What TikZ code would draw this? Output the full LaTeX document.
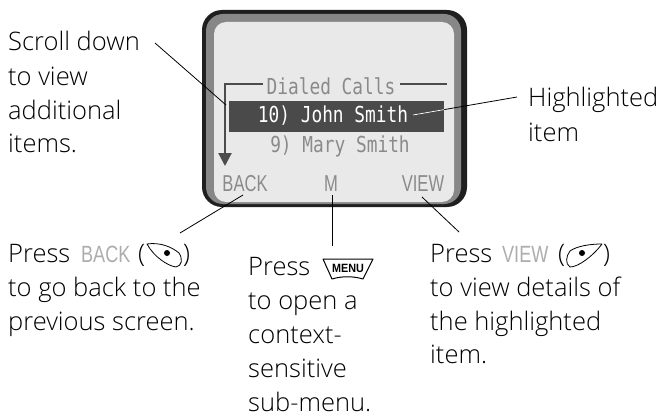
\documentclass[tikz,border=0pt]{standalone}
\usepackage{fontspec}
\setmainfont{Open Sans Light}
\newfontfamily\scrfont{DejaVu Sans Mono}
\newfontfamily\softfont{Liberation Sans}
\usetikzlibrary{arrows.meta,calc}
\definecolor{scr}{HTML}{E9E9E9}
\definecolor{softg}{HTML}{8A8A8A}
\definecolor{bar}{HTML}{4A4A4A}
\tikzset{
  lab/.style={anchor=base west,inner sep=0pt,font=\fontsize{25.5}{25.5}\selectfont,text=black},
  lead/.style={draw=black,line width=0.8pt},
  scrtext/.style={inner sep=0pt,anchor=base,font=\fontsize{22}{22}\scrfont,xscale=0.81},
  softkey/.style={inner sep=0pt,anchor=base,font=\fontsize{23}{23}\softfont,text=softg,xscale=0.72},
  softword/.style={inner sep=0pt,anchor=base west,font=\fontsize{23.5}{23.5}\softfont,text=black!32,xscale=0.77},
  key/.style={draw=black,line width=0.8pt,fill=white,line join=round}
}
\begin{document}
\begin{tikzpicture}[x=1pt,y=-1pt]
\useasboundingbox (0,0) rectangle (661,417);
% phone screen
\fill[black!88,rounded corners=20pt] (202,10) rectangle (467,207);
\fill[black!47,rounded corners=17pt] (206,14) rectangle (461,204);
\fill[scr,rounded corners=12pt] (214,22) rectangle (454,202);
\fill[bar] (229,101) rectangle (444,132);
% screen texts
\node[scrtext,text=softg] (title) at (331,95) {Dialed Calls};
\node[scrtext,text=white] (john) at (333,123) {10) John Smith};
\node[scrtext,text=softg] (mary) at (340,153) {9) Mary Smith};
\node[softkey] (back) at (245,191.5) {BACK};
\node[softkey] (menu) at (331,191.5) {M};
\node[softkey] (view) at (423,191.5) {VIEW};
% frame and arrow
\coordinate (frameL) at (263,84);
\coordinate (frameC) at (225,84);
\coordinate (frameEnd) at (225,166);
\coordinate (frameR1) at (400,84);
\coordinate (frameR2) at (447,84);
\draw[line width=2.2pt,draw=black!70,-{Triangle[length=13pt,width=13pt]}] (frameL) -- (frameC) -- (frameEnd);
\draw[line width=2.2pt,draw=black!70] (frameR1) -- (frameR2);
% labels
\node[lab] (s1) at (8,51) {Scroll down};
\node[lab] (s2) at (8,86) {to view};
\node[lab] (s3) at (8,120) {additional};
\node[lab] (s4) at (8,153) {items.};
\node[lab] (h1) at (528,107) {Highlighted};
\node[lab] (h2) at (528,142) {item};
\node[lab] (b1) at (8,262) {Press};
\node[softword] (b1a) at (81,262) {BACK};
\node[lab] (b1b) at (138,262) {(};
\node[lab] (b1c) at (183,262) {)};
\node[lab] (b2) at (8,296) {to go back to the};
\node[lab] (b3) at (8,330) {previous screen.};
\node[lab] (m1) at (248,275) {Press};
\node[lab] (m2) at (248,309) {to open a};
\node[lab] (m3) at (248,343) {context-};
\node[lab] (m4) at (248,377) {sensitive};
\node[lab] (m5) at (248,411) {sub-menu.};
\node[lab] (v1) at (430,262) {Press};
\node[softword] (v1a) at (502,262) {VIEW};
\node[lab] (v1b) at (558,262) {(};
\node[lab] (v1c) at (603,262) {)};
\node[lab] (v2) at (430,296) {to view details of};
\node[lab] (v3) at (430,330) {the highlighted};
\node[lab] (v4) at (430,363) {item.};
% key icons
\draw[key] (147,244) .. controls (160,242) and (172,247) .. (179,253) .. controls (183,259) and (182,266) .. (176,267) .. controls (168,266) and (154,257) .. (147,244) -- cycle;
\fill (167,253) circle (3pt);
\draw[key] (602,244) .. controls (590,244) and (577,246) .. (570,251) .. controls (566,256) and (565,264) .. (570,267) .. controls (578,267) and (592,257) .. (602,244) -- cycle;
\fill (582,253) circle (3pt);
\draw[key,line width=1pt] (323,259) -- (373,259) -- (363,279) .. controls (353,276) and (342,276) .. (332,279) -- cycle;
\node[inner sep=0pt,font=\fontsize{12}{12}\softfont\bfseries,xscale=0.9] (menukey) at (348,268.5) {MENU};
% leaders
\coordinate (lsA) at (155,43);
\coordinate (lsB) at (226,105);
\coordinate (lhA) at (413,115);
\coordinate (lhB) at (517,97);
\coordinate (lbA) at (243,195);
\coordinate (lbB) at (180,233);
\coordinate (lmA) at (332,195);
\coordinate (lmB) at (332,246);
\coordinate (lvA) at (422,197);
\coordinate (lvB) at (459,232);
\draw[lead] (lsA) -- (lsB);
\draw[lead] (lhA) -- (lhB);
\draw[draw=white,line width=0.8pt] (lhA) -- ($(lhA)!0.3!(lhB)$);
\draw[lead] (lbA) -- (lbB);
\draw[lead] (lmA) -- (lmB);
\draw[lead] (lvA) -- (lvB);
\end{tikzpicture}
\end{document}
